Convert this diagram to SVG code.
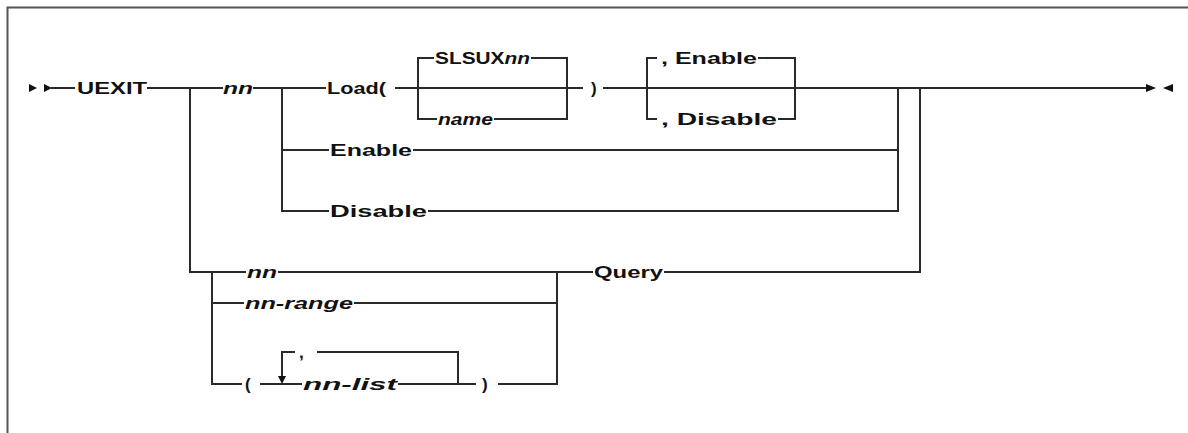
<svg xmlns="http://www.w3.org/2000/svg" width="1188" height="433" viewBox="0 0 1188 433">
<style>
.t{font-family:"Liberation Sans",Arial,sans-serif;font-size:17px;font-weight:bold;fill:#111}
.i{font-style:italic}
.c path{stroke:#2a2a2a;stroke-width:2;fill:none}
.c polygon{fill:#111;stroke:none}
.f{stroke:#555;stroke-width:2;fill:none}
</style>
<rect width="1188" height="433" fill="#fff"/>
<path class="f" d="M7.5,433 V7.5 H1188"/>
<g id="connectors" class="c">
<polygon points="29,84 37,88 29,92"/>
<polygon points="44,84 52,88 44,92"/>
<path d="M51,88 H75 M147,88 H223 M253,88 H326 M395,88 H583 M603,88 H1149"/>
<polygon points="1146,84 1156,88 1146,92"/>
<polygon points="1173,84 1163,88 1173,92"/>
<path d="M418,88 V58 H434 M531,58 H567 V119 H494 M437,119 H418 V88"/>
<path d="M657,58 H647 V119 H657 M758,58 H795 V119 H778"/>
<path d="M190,88 V272 H246 M278,272 H593 M664,272 H920 V88"/>
<path d="M282,88 V211 H329 M282,150 H329 M413,150 H898 M428,211 H898 V88"/>
<path d="M212,272 V384 H242 M212,303 H244 M354,303 H557 M260,384 H302 M398,384 H476 M498,384 H557 V272"/>
<path d="M458,384 V352 H317 M295,352 H282 V378"/>
<polygon points="278,376 286,376 282,384"/>
</g>
<g id="n-uexit"><text class="t" x="77" y="94" textLength="70" lengthAdjust="spacingAndGlyphs">UEXIT</text></g>
<g id="n-nn1"><text class="t i" x="223" y="94" textLength="30" lengthAdjust="spacingAndGlyphs">nn</text></g>
<g id="n-load"><text class="t" x="327" y="94" textLength="59" lengthAdjust="spacingAndGlyphs">Load(</text></g>
<g id="n-slsux"><text class="t" x="435" y="64" textLength="95" lengthAdjust="spacingAndGlyphs">SLSUX<tspan class="i">nn</tspan></text></g>
<g id="n-name"><text class="t i" x="438" y="125" textLength="55" lengthAdjust="spacingAndGlyphs">name</text></g>
<g id="n-rparen1"><text class="t" x="591" y="94">)</text></g>
<g id="n-cenable"><text class="t" x="661" y="64" textLength="96" lengthAdjust="spacingAndGlyphs">, Enable</text></g>
<g id="n-cdisable"><text class="t" x="661" y="125" textLength="116" lengthAdjust="spacingAndGlyphs">, Disable</text></g>
<g id="n-enable"><text class="t" x="330" y="156" textLength="82" lengthAdjust="spacingAndGlyphs">Enable</text></g>
<g id="n-disable"><text class="t" x="330" y="217" textLength="97" lengthAdjust="spacingAndGlyphs">Disable</text></g>
<g id="n-nn2"><text class="t i" x="247" y="278" textLength="30" lengthAdjust="spacingAndGlyphs">nn</text></g>
<g id="n-query"><text class="t" x="594" y="278" textLength="69" lengthAdjust="spacingAndGlyphs">Query</text></g>
<g id="n-nnrange"><text class="t i" x="245" y="309" textLength="108" lengthAdjust="spacingAndGlyphs">nn-range</text></g>
<g id="n-lparen"><text class="t" x="245" y="390">(</text></g>
<g id="n-comma"><text class="t" x="299" y="358">,</text></g>
<g id="n-nnlist"><text class="t i" x="303" y="390" textLength="94" lengthAdjust="spacingAndGlyphs">nn-list</text></g>
<g id="n-rparen2"><text class="t" x="482" y="390">)</text></g>
</svg>
